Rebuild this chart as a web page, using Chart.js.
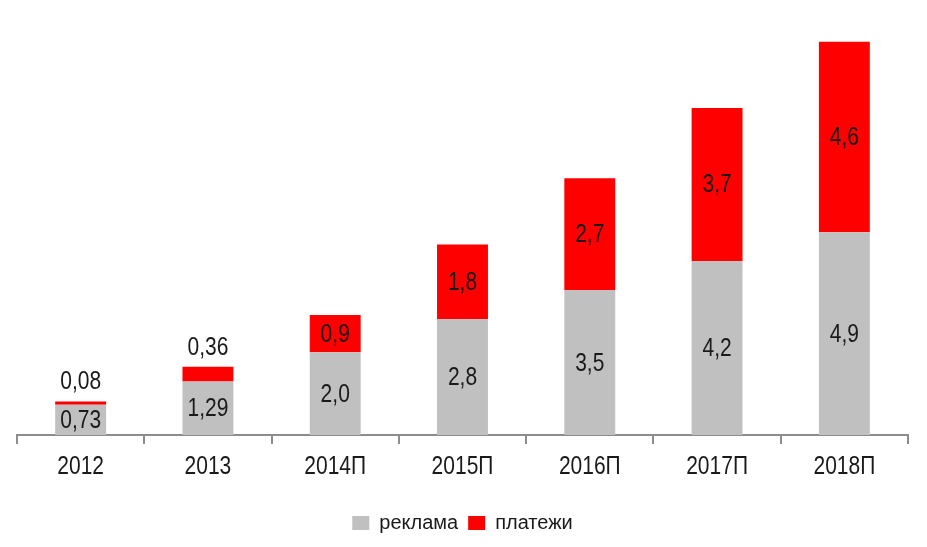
<!DOCTYPE html>
<html><head><meta charset="utf-8">
<script src="https://cdn.jsdelivr.net/npm/chart.js@4"></script>
<style>html,body{margin:0;padding:0;background:#fff}#w{width:927px;height:547px}</style>
</head><body><div id="w"><canvas id="c"></canvas></div>
<script>
const categories = ['2012','2013','2014П','2015П','2016П','2017П','2018П'];
const reklama = [0.73, 1.29, 2.0, 2.8, 3.5, 4.2, 4.9];
const platezhi = [0.08, 0.36, 0.9, 1.8, 2.7, 3.7, 4.6];
const reklamaLabels = ['0,73','1,29','2,0','2,8','3,5','4,2','4,9'];
const platezhiLabels = ['0,08','0,36','0,9','1,8','2,7','3,7','4,6'];
const FONT = '"Liberation Sans", Arial, sans-serif';
const STRETCH = 1.2;

function stretchedText(ctx, text, x, y) {
  ctx.save();
  ctx.translate(x, y);
  ctx.scale(1, STRETCH);
  ctx.fillText(text, 0, 0);
  ctx.restore();
}

const labelPlugin = {
  id: 'vlabels',
  afterDatasetsDraw(chart) {
    const ctx = chart.ctx;
    ctx.save();
    ctx.font = '21px ' + FONT;
    ctx.fillStyle = '#1a1a1a';
    ctx.textAlign = 'center';
    ctx.textBaseline = 'middle';
    const texts = [reklamaLabels, platezhiLabels];
    chart.data.datasets.forEach((ds, di) => {
      const meta = chart.getDatasetMeta(di);
      meta.data.forEach((bar, i) => {
        const top = bar.y, bottom = bar.base;
        const h = bottom - top;
        if (h < 25) {
          stretchedText(ctx, texts[di][i], bar.x, top - 19);
        } else {
          stretchedText(ctx, texts[di][i], bar.x, (top + bottom) / 2 + 1);
        }
      });
    });
    const xs = chart.scales.x;
    const axisY = chart.chartArea.bottom;
    categories.forEach((c, i) => {
      stretchedText(ctx, c, xs.getPixelForTick(i), axisY + 32);
    });
    ctx.restore();
  }
};

new Chart(document.getElementById('c'), {
  type: 'bar',
  data: {
    labels: categories,
    datasets: [
      {label: 'реклама', data: reklama, backgroundColor: '#c0c0c0', barPercentage: 0.4, categoryPercentage: 1},
      {label: 'платежи', data: platezhi, backgroundColor: '#ff0000', barPercentage: 0.4, categoryPercentage: 1}
    ]
  },
  options: {
    responsive: true, maintainAspectRatio: false, animation: false,
    layout: {padding: {left: 17, right: 19, top: 21, bottom: 4}},
    plugins: {
      tooltip: {enabled: false},
      legend: {
        position: 'bottom',
        labels: {boxWidth: 17, boxHeight: 14, padding: 10, color: '#1a1a1a', font: {family: FONT, size: 20}}
      }
    },
    scales: {
      x: {
        stacked: true,
        grid: {offset: true, drawOnChartArea: false, tickLength: 9, color: '#8c8c8c', lineWidth: 2},
        border: {color: '#8c8c8c', width: 2},
        ticks: {color: 'rgba(0,0,0,0)', font: {family: FONT, size: 20}, padding: 17.5}
      },
      y: {stacked: true, display: false, min: 0, max: 10}
    }
  },
  plugins: [labelPlugin]
});
</script></body></html>
